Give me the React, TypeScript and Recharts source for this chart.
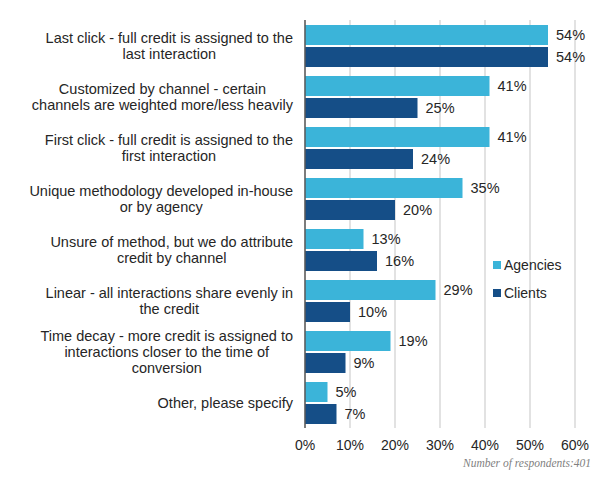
import React from 'react';
import { BarChart, Bar, XAxis, YAxis, CartesianGrid, Legend, LabelList } from 'recharts';

// survey answers, line breaks as in the original slide
const categories = [
  'Last click - full credit is assigned to the\nlast interaction',
  'Customized by channel - certain\nchannels are weighted more/less heavily',
  'First click - full credit is assigned to the\nfirst interaction',
  'Unique methodology developed in-house\nor by agency',
  'Unsure of method, but we do attribute\ncredit by channel',
  'Linear - all interactions share evenly in\nthe credit',
  'Time decay - more credit is assigned to\ninteractions closer to the time of\nconversion',
  'Other, please specify',
];
const agencies = [54, 41, 41, 35, 13, 29, 19, 5];
const clients = [54, 25, 24, 20, 16, 10, 9, 7];
const xTicks = [0, 10, 20, 30, 40, 50, 60];

const LIGHT = '#3bb4d9';
const DARK = '#154e87';
const FONT = '"Liberation Sans", Arial, sans-serif';

const data = categories.map((name, i) => ({ name, agencies: agencies[i], clients: clients[i] }));

let ctx: CanvasRenderingContext2D | null = null;
const measure = (s: string, size: number) => {
  if (!ctx) ctx = document.createElement('canvas').getContext('2d');
  if (!ctx) return s.length * size * 0.5;
  ctx.font = `${size}px ${FONT}`;
  return ctx.measureText(s).width;
};

const CategoryTick = (props: any) => {
  const { x, y, payload } = props;
  const lines: string[] = String(payload.value).split('\n');
  const maxW = Math.max(...lines.map((l) => measure(l, 14.5)));
  const cx = x - 12 - maxW / 2;
  const y0 = y - ((lines.length - 1) * 16) / 2;
  return (
    <text textAnchor="middle" fontSize={14.5} fontFamily={FONT} fill="#262626">
      {lines.map((l, i) => (
        <tspan key={i} x={cx} y={y0 + i * 16} dy="0.35em">
          {l}
        </tspan>
      ))}
    </text>
  );
};

const LegendBox = () => (
  <div style={{ fontFamily: FONT, fontSize: 14, color: '#262626' }}>
    {[
      { label: 'Agencies', color: LIGHT },
      { label: 'Clients', color: DARK },
    ].map((e) => (
      <div key={e.label} style={{ display: 'flex', alignItems: 'center', height: 28 }}>
        <span style={{ width: 8, height: 8, background: e.color, marginRight: 3, display: 'inline-block' }} />
        {e.label}
      </div>
    ))}
  </div>
);

const App: React.FC = () => {
  return (
    <div style={{ position: 'absolute', left: 0, top: 0, width: 600, height: 479, background: '#fff' }}>
      <BarChart
        width={600}
        height={479}
        data={data}
        layout="vertical"
        margin={{ top: 20, right: 25, left: 0, bottom: 31 }}
        barSize={20}
        barGap={2}
      >
        <CartesianGrid horizontal={false} vertical stroke="#d9d9d9" strokeWidth={1.5} />
        <XAxis
          type="number"
          domain={[0, 60]}
          ticks={xTicks}
          tickFormatter={(v) => `${v}%`}
          axisLine={false}
          tickLine={false}
          tickMargin={6}
          tick={{ fontSize: 14, fill: '#262626', fontFamily: FONT }}
          height={20}
        />
        <YAxis
          type="category"
          dataKey="name"
          width={305}
          interval={0}
          tickSize={0}
          tickMargin={0}
          tickLine={false}
          axisLine={{ stroke: '#5a5a5a', strokeWidth: 1.5 }}
          tick={<CategoryTick />}
        />
        <Legend
          layout="vertical"
          align="center"
          verticalAlign="middle"
          content={<LegendBox />}
          wrapperStyle={{ left: 493, top: 251, width: 100 }}
        />
        <Bar dataKey="agencies" name="Agencies" fill={LIGHT} isAnimationActive={false}>
          <LabelList
            dataKey="agencies"
            position="right"
            offset={8}
            formatter={(v: any) => `${v}%`}
            style={{ fontSize: 14.5, fill: '#262626', fontFamily: FONT }}
          />
        </Bar>
        <Bar dataKey="clients" name="Clients" fill={DARK} isAnimationActive={false}>
          <LabelList
            dataKey="clients"
            position="right"
            offset={8}
            formatter={(v: any) => `${v}%`}
            style={{ fontSize: 14.5, fill: '#262626', fontFamily: FONT }}
          />
        </Bar>
      </BarChart>
      <div
        style={{
          position: 'absolute',
          right: 9,
          top: 457,
          fontFamily: '"Liberation Serif", "DejaVu Serif", serif',
          fontStyle: 'italic',
          fontSize: 11.5,
          color: '#7f7f7f',
        }}
      >
        Number of respondents:401
      </div>
    </div>
  );
};

export default App;
